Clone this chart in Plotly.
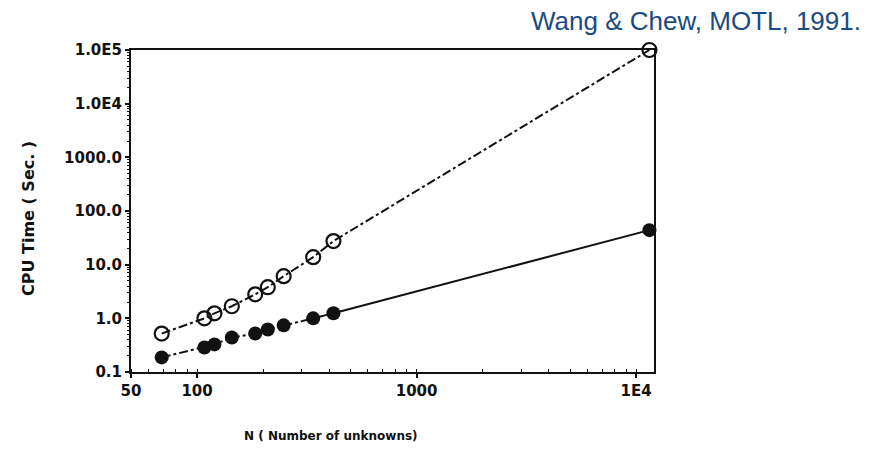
import plotly.graph_objects as go

# Number of unknowns N
n_unknowns = [69, 108, 120, 144, 184, 210, 248, 338, 418, 11500]
# CPU time (sec.) for the two solvers
cpu_open = [0.52, 1.0, 1.24, 1.68, 2.8, 3.8, 6.1, 13.8, 27.5, 1.0e5]
cpu_filled = [0.187, 0.287, 0.327, 0.44, 0.52, 0.62, 0.74, 1.0, 1.24, 44]

y_tickvals = [0.1, 1, 10, 100, 1000, 1e4, 1e5]
y_ticktext = ["0.1", "1.0", "10.0", "100.0", "1000.0", "1.0E4", "1.0E5"]
x_tickvals = [50, 100, 1000, 1e4]
x_ticktext = ["50", "100", "1000", "1E4"]

ink = "#111111"
tick_font = dict(family="DejaVu Sans", size=15, color=ink, weight="bold")

fig = go.Figure()

# Open-circle series: dash-dot line
fig.add_trace(go.Scatter(
    x=n_unknowns, y=cpu_open, mode="lines+markers",
    line=dict(color=ink, width=2, dash="dashdot"),
    marker=dict(symbol="circle-open", size=14, color=ink, line=dict(width=2.2, color=ink)),
    cliponaxis=False, showlegend=False,
))

# Filled-circle series: dash-dot over the small problems, solid to the largest one
fig.add_trace(go.Scatter(
    x=n_unknowns[:-1], y=cpu_filled[:-1], mode="lines",
    line=dict(color=ink, width=2, dash="dashdot"),
    cliponaxis=False, showlegend=False,
))
fig.add_trace(go.Scatter(
    x=n_unknowns[-2:], y=cpu_filled[-2:], mode="lines",
    line=dict(color=ink, width=2),
    cliponaxis=False, showlegend=False,
))
fig.add_trace(go.Scatter(
    x=n_unknowns, y=cpu_filled, mode="markers",
    marker=dict(symbol="circle", size=14, color=ink),
    cliponaxis=False, showlegend=False,
))

fig.update_xaxes(
    type="log", range=[1.69897, 4.0815],
    tickvals=x_tickvals, ticktext=x_ticktext,
    ticks="outside", ticklen=4, tickwidth=1.5, tickcolor=ink,
    minor=dict(ticks="inside", dtick="D1", ticklen=3, tickwidth=1, tickcolor=ink, showgrid=False),
    showline=True, linecolor=ink, linewidth=2, mirror=True,
    showgrid=False, zeroline=False, tickfont=tick_font,
)
fig.update_yaxes(
    type="log", range=[-1, 5],
    tickvals=y_tickvals, ticktext=y_ticktext,
    ticks="outside", ticklen=4, tickwidth=1.5, tickcolor=ink,
    minor=dict(ticks="outside", dtick="D1", ticklen=2, tickwidth=1, tickcolor=ink, showgrid=False),
    showline=True, linecolor=ink, linewidth=2, mirror=True,
    showgrid=False, zeroline=False, tickfont=tick_font,
)

# Axis titles
fig.add_annotation(
    text="<b>N ( Number of unknowns)</b>", xref="paper", yref="paper",
    x=0.382, y=-0.199, xanchor="center", yanchor="middle", showarrow=False,
    font=dict(family="DejaVu Sans", size=12, color=ink),
)
fig.add_annotation(
    text="<b>CPU Time ( Sec. )</b>", xref="paper", yref="paper", textangle=-90,
    x=-0.197, y=0.478, xanchor="center", yanchor="middle", showarrow=False,
    font=dict(family="DejaVu Sans", size=16, color=ink),
)

fig.add_annotation(
    text="Wang & Chew, MOTL, 1991.", xref="paper", yref="paper",
    x=1.3996, y=1.09, xanchor="right", yanchor="middle", showarrow=False,
    font=dict(family="Liberation Sans", size=26, color="#1B4A82"),
)

fig.update_layout(
    width=873, height=458,
    margin=dict(l=131, r=219, t=50, b=86),
    paper_bgcolor="white", plot_bgcolor="white",
)

fig.write_html("out.html")
